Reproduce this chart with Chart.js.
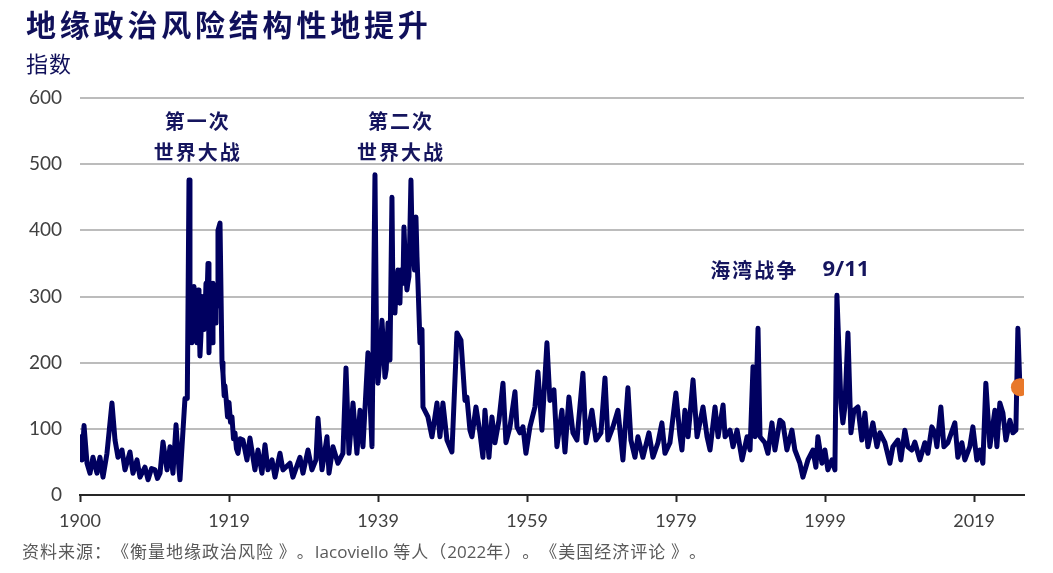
<!DOCTYPE html>
<html>
<head>
<meta charset="utf-8">
<script src="https://cdn.jsdelivr.net/npm/chart.js@4.4.1/dist/chart.umd.min.js"></script>
<style>
  body { margin: 0; background: #fff; }
  #wrap { position: relative; width: 1053px; height: 573px; overflow: hidden; }
  #chart { position: absolute; left: 0; top: 0; }
  .title { position: absolute; left: 26px; top: 1px; font: bold 30px "Noto Sans CJK SC", sans-serif; color: #10105a; letter-spacing: 3.8px; white-space: nowrap; }
  .unit { position: absolute; left: 26px; top: 46px; font: 22px "Noto Sans CJK SC", sans-serif; color: #10105a; letter-spacing: 1px; }
  .source { position: absolute; left: 22px; top: 538px; font: 17px "Noto Sans CJK SC", sans-serif; color: #595959; white-space: nowrap; letter-spacing: 1px; text-spacing-trim: space-all; }
  .source span { letter-spacing: 0; font-family: "Open Sans", sans-serif; }
</style>
</head>
<body>
<div id="wrap">
  <canvas id="chart" width="1053" height="573"></canvas>
  <div class="title">地缘政治风险结构性地提升</div>
  <div class="unit">指数</div>
  <div class="source">资料来源：《衡量地缘政治风险 》。<span>Iacoviello</span> 等人（<span>2022</span>年）。《美国经济评论 》。</div>
</div>
<script>
// GPR index (x = position on the time axis, in years)
const years = [
  // 1900 - 1914
  1900.00, 1900.27, 1900.54, 1900.94, 1901.34, 1901.74, 1902.28, 1902.68, 1903.09, 1903.62,
  1904.29, 1904.70, 1905.10, 1905.64, 1906.04, 1906.71, 1907.11, 1907.65, 1908.05, 1908.72,
  1909.13, 1909.60, 1910.07, 1910.40, 1910.74, 1911.14, 1911.68, 1912.08, 1912.48, 1912.89,
  1913.29, 1913.42, 1913.69, 1914.09, 1914.40,
  // WWI and after
  1914.63, 1914.76, 1914.90, 1915.03, 1915.15, 1915.30, 1915.42, 1915.57, 1915.70, 1915.84,
  1915.97, 1916.10, 1916.23, 1916.37, 1916.50, 1916.64, 1916.77, 1916.91, 1917.05, 1917.18,
  1917.31, 1917.45, 1917.58, 1917.72, 1917.85, 1917.98, 1918.12, 1918.25, 1918.39, 1918.52,
  1918.79, 1919.06, 1919.19, 1919.35, 1919.45, 1919.59, 1919.80, 1920.00, 1920.20, 1920.40,
  1920.60, 1920.80, 1921.00, 1921.20, 1921.50, 1921.87,
  // inter-war
  1922.41, 1922.81, 1923.48, 1923.89, 1924.42, 1924.83, 1925.23, 1925.77, 1926.17, 1926.84,
  1927.24, 1928.18, 1928.58, 1929.52, 1929.93, 1930.60, 1931.13, 1931.67, 1931.94, 1932.48,
  1933.15, 1933.42, 1933.95, 1934.62, 1935.29, 1935.70, 1936.10, 1936.64, 1937.17, 1937.58,
  1937.98, 1938.65, 1939.19,
  // WWII
  1939.59, 1939.80, 1939.99, 1940.20, 1940.53, 1940.70, 1940.93, 1941.10, 1941.34, 1941.45,
  1941.60, 1941.87, 1942.00, 1942.13, 1942.27, 1942.45, 1942.67, 1942.80, 1942.94, 1943.05,
  1943.21, 1943.35, 1943.48, 1943.70, 1943.88, 1944.00, 1944.15, 1944.42, 1944.55, 1944.69,
  1944.90, 1945.09, 1945.23, 1945.36, 1945.63, 1945.90,
  // 1946 onwards
  1946.03, 1946.70, 1947.24, 1947.91, 1948.31, 1948.71,
  1949.25, 1949.92, 1950.59, 1951.13, 1951.40, 1951.67, 1951.93, 1952.34, 1952.61, 1953.14,
  1953.68, 1954.08, 1954.35, 1954.89, 1955.29, 1955.69, 1956.23, 1956.77, 1957.17, 1957.71,
  1958.38, 1958.65, 1959.05, 1959.45, 1959.85, 1960.39, 1961.06, 1961.46, 1962.00, 1962.67,
  1963.07, 1963.61, 1964.01, 1964.68, 1965.09, 1965.62, 1966.16, 1966.70, 1967.50, 1967.91,
  1968.71, 1969.25, 1969.92, 1970.46, 1970.86, 1971.53, 1972.20, 1972.87, 1973.54, 1973.94,
  1974.48, 1974.88, 1975.55, 1976.36, 1976.90, 1977.57, 1978.10, 1978.51, 1979.18, 1979.98,
  1980.52, 1980.79, 1981.19, 1981.61, 1982.28, 1982.82, 1983.62, 1984.16, 1984.56, 1985.23,
  1985.64, 1986.31, 1986.58, 1987.25, 1987.65, 1988.19, 1988.86, 1989.53, 1989.93, 1990.33,
  1990.60, 1991.00, 1991.27, 1991.93, 1992.33, 1992.87, 1993.27, 1993.94, 1994.34, 1994.88,
  1995.55, 1995.95, 1996.62, 1997.03, 1997.70, 1998.37, 1998.77, 1999.04, 1999.58, 1999.98,
  2000.38, 2000.92, 2001.32, 2001.59, 2002.13, 2002.39, 2002.66, 2003.07, 2003.47, 2003.87,
  2004.41, 2004.94, 2005.35, 2005.75, 2006.42, 2006.96, 2007.36, 2008.03, 2008.70, 2009.10,
  2009.77, 2010.17, 2010.71, 2011.11, 2011.65, 2012.05, 2012.72, 2013.39, 2013.80, 2014.33,
  2014.74, 2015.01, 2015.54, 2015.95, 2016.48, 2017.42, 2017.82, 2018.36, 2018.76, 2019.43,
  2019.84, 2020.37, 2020.78, 2021.18, 2021.58, 2022.12, 2022.79, 2023.06, 2023.46, 2023.87,
  2024.27, 2024.81, 2025.21, 2025.61, 2025.88, 2026.15
];
const gpr = [
  // 1900 - 1914
  88, 53, 105, 48, 33, 57, 33, 57, 27, 63,
  139, 83, 57, 68, 38, 65, 33, 53, 27, 42,
  23, 40, 38, 25, 33, 80, 38, 73, 33, 106,
  38, 23, 73, 146, 146,
  // WWI and after
  476, 300, 250, 230, 290, 315, 260, 240, 230, 310,
  280, 210, 240, 300, 290, 250, 270, 320, 300, 350,
  215, 300, 280, 230, 320, 310, 260, 280, 300, 400,
  411, 200, 184, 150, 165, 148, 118, 140, 110, 118,
  85, 94, 70, 63, 85, 83,
  // inter-war
  53, 86, 38, 68, 33, 76, 38, 53, 27, 63,
  38, 48, 27, 57, 33, 68, 38, 53, 116, 38,
  88, 33, 73, 48, 63, 192, 63, 139, 63, 128,
  73, 215, 73,
  // WWII
  484, 230, 169, 200, 264, 230, 178, 190, 260, 240,
  204, 450, 300, 310, 275, 320, 340, 300, 290, 340,
  330, 320, 405, 340, 310, 320, 330, 476, 400, 370,
  340, 420, 360, 320, 230, 250,
  // 1946 onwards
  133, 118, 88, 139, 88, 139,
  83, 65, 245, 234, 189, 143, 148, 98, 88, 133,
  94, 57, 128, 57, 118, 79, 113, 169, 79, 103,
  156, 103, 94, 103, 63, 103, 133, 186, 98, 230,
  143, 159, 73, 128, 65, 148, 94, 83, 184, 79,
  128, 83, 94, 177, 83, 103, 128, 53, 162, 83,
  57, 88, 57, 94, 57, 79, 109, 63, 79, 154,
  90, 68, 128, 88, 174, 88, 133, 88, 68, 133,
  88, 136, 88, 98, 73, 98, 53, 88, 68, 194,
  88, 252, 88, 79, 63, 109, 68, 113, 109, 68,
  98, 68, 48, 27, 53, 68, 42, 88, 48, 68,
  38, 53, 38, 302, 139, 109, 133, 245, 94, 128,
  133, 83, 124, 73, 109, 73, 94, 79, 48, 73,
  83, 53, 98, 73, 68, 80, 53, 79, 63, 103,
  94, 73, 133, 73, 79, 109, 57, 79, 53, 73,
  103, 53, 68, 48, 169, 73, 128, 73, 139, 124,
  83, 113, 94, 98, 252, 163
];

const tickYears = [1900, 1920, 1940, 1960, 1980, 2000, 2020];
const tickLabels = ["1900", "1919", "1939", "1959", "1979", "1999", "2019"];

const notes = [
  { text: "第一次", year: 1915.8, value: 564 },
  { text: "世界大战", year: 1915.8, value: 518 },
  { text: "第二次", year: 1943.1, value: 564 },
  { text: "世界大战", year: 1943.1, value: 518 },
  { text: "海湾战争", year: 1990.5, value: 340 },
  { text: "9/11", year: 2002.8, value: 340 },
];

const NAVY = "#000060";
const ORANGE = "#e8782a";

const notePlugin = {
  id: "notes",
  afterDatasetsDraw(chart) {
    const { ctx, scales } = chart;
    ctx.save();
    ctx.fillStyle = "#15155e";
    ctx.textAlign = "center";
    ctx.textBaseline = "middle";
    notes.forEach((n) => {
      ctx.font = n.text === "9/11"
        ? "bold 22px 'Open Sans', sans-serif"
        : "bold 20px 'Noto Sans CJK SC', sans-serif";
      ctx.letterSpacing = n.text === "9/11" ? "0px" : "2px";
      ctx.fillText(n.text, scales.x.getPixelForValue(n.year), scales.y.getPixelForValue(n.value));
    });
    ctx.restore();
  },
};

const last = gpr.length - 1;

new Chart(document.getElementById("chart"), {
  type: "line",
  data: {
    datasets: [
      {
        data: years.map((y, i) => ({ x: y, y: gpr[i] })),
        borderColor: NAVY,
        borderWidth: 5,
        borderJoinStyle: "round",
        borderCapStyle: "round",
        tension: 0,
        pointRadius: (c) => (c.dataIndex === last ? 9 : 0),
        pointBackgroundColor: ORANGE,
        pointBorderWidth: 0,
        pointHoverRadius: 0,
      },
    ],
  },
  options: {
    responsive: false,
    animation: false,
    events: [],
    layout: { padding: { top: 98, right: 29, left: 0, bottom: 0 } },
    plugins: {
      legend: { display: false },
      tooltip: { enabled: false },
    },
    scales: {
      x: {
        type: "linear",
        min: 1900,
        max: 2026.7,
        afterFit: (s) => { s.height = 78; },
        afterBuildTicks: (s) => { s.ticks = tickYears.map((v) => ({ value: v })); },
        border: { display: true, color: "#262626", width: 2 },
        grid: {
          drawOnChartArea: false,
          drawTicks: true,
          tickLength: 7,
          tickColor: "#262626",
          tickWidth: 2,
        },
        ticks: {
          padding: 8,
          maxRotation: 0,
          color: "#404040",
          font: { size: 18, family: "Lato, 'Open Sans', sans-serif" },
          callback: (v) => tickLabels[tickYears.indexOf(v)],
        },
      },
      y: {
        min: 0,
        max: 600,
        afterFit: (s) => { s.width = 80; },
        border: { display: false },
        grid: {
          drawTicks: false,
          color: (c) => (c.tick.value === 0 ? "rgba(0,0,0,0)" : "#bcbcbc"),
          lineWidth: 2,
        },
        ticks: {
          stepSize: 100,
          padding: 18,
          color: "#404040",
          font: { size: 19, family: "Lato, 'Open Sans', sans-serif" },
        },
      },
    },
  },
  plugins: [notePlugin],
});
</script>
</body>
</html>
